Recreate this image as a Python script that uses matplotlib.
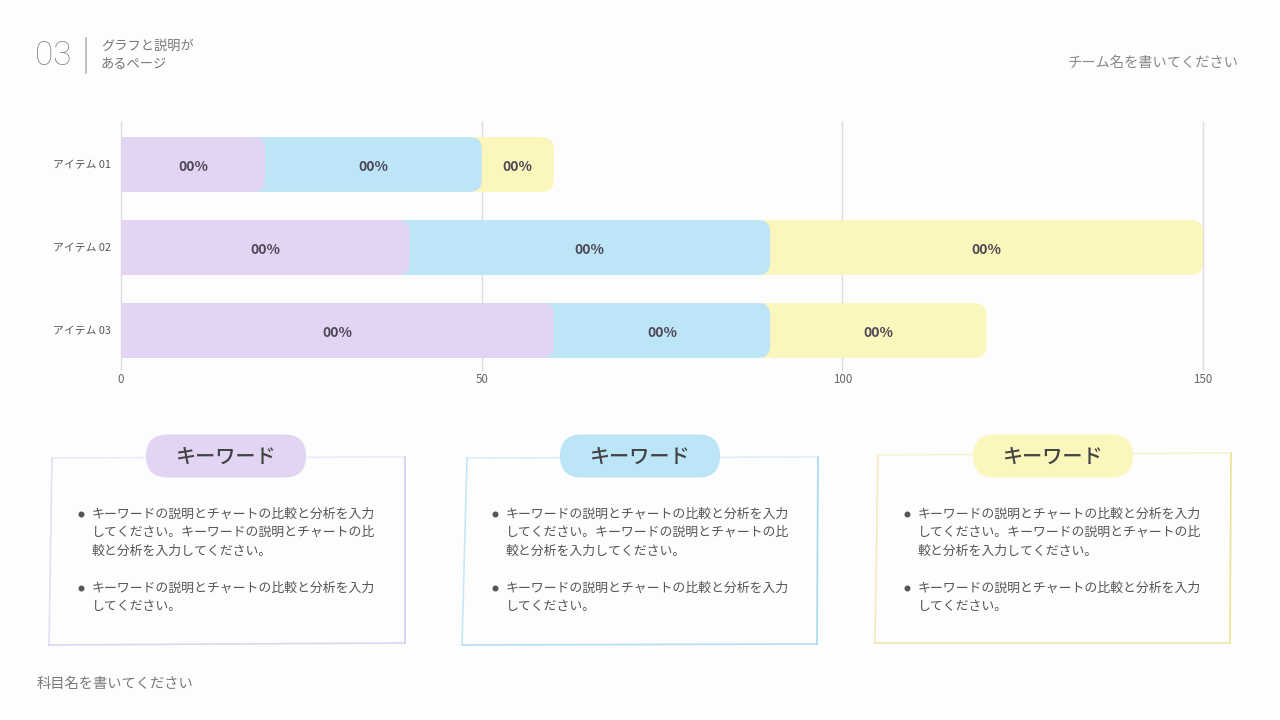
import matplotlib.pyplot as plt
from matplotlib.patches import FancyBboxPatch

plt.rcParams['font.family'] = ['Noto Sans CJK JP', 'DejaVu Sans']

# データ
items = ['アイテム 01', 'アイテム 02', 'アイテム 03']
purple_vals = [20, 40, 60]
blue_vals = [30, 50, 30]
yellow_vals = [10, 60, 30]
seg_labels = ['00%', '00%', '00%']
xticks = [0, 50, 100, 150]

colors = ['#e2d5f3', '#bde5f8', '#fbf6bb']
edge_colors = ['#d3c6ee', '#9fd4f0', '#e9df88']

card_titles = ['キーワード', 'キーワード', 'キーワード']
bullet1 = ['キーワードの説明とチャートの比較と分析を入力',
           'してください。キーワードの説明とチャートの比',
           '較と分析を入力してください。']
bullet2 = ['キーワードの説明とチャートの比較と分析を入力',
           'してください。']

W, H = 1280, 720
fig = plt.figure(figsize=(12.8, 7.2), dpi=100)
fig.patch.set_facecolor('#fdfdfe')

# 背景用の全面 axes (ピクセル座標)
bg = fig.add_axes([0, 0, 1, 1])
bg.set_xlim(0, W)
bg.set_ylim(H, 0)
bg.axis('off')
bg.patch.set_alpha(0)

# ヘッダー
bg.text(35, 56, '03', fontsize=24, color='#8a8a8a', family=['Roboto', 'DejaVu Sans'],
        fontweight='light', va='center', ha='left')
bg.plot([86, 86], [38, 73], color='#b5b5b5', lw=1.2)
bg.text(101, 46, 'グラフと説明が', fontsize=9.5, color='#777777', va='center')
bg.text(101, 64, 'あるページ', fontsize=9.5, color='#777777', va='center')
bg.text(1239, 63, 'チーム名を書いてください', fontsize=10.3, color='#8a8a8a',
        va='center', ha='right')
bg.text(37, 684, '科目名を書いてください', fontsize=10.3, color='#7a7a7a', va='center')

# グラフ
x0, x1 = 121, 1203
y_top, y_bot = 122, 370
ax = fig.add_axes([x0 / W, 1 - y_bot / H, (x1 - x0) / W, (y_bot - y_top) / H])
ax.patch.set_alpha(0)
ax.set_xlim(0, 150)
ax.set_ylim(2 + (y_bot - 330.5) / 83, -42.5 / 83)
for s in ax.spines.values():
    s.set_visible(False)
ax.set_xticks(xticks)
ax.set_xticklabels([str(t) for t in xticks], fontsize=8.3, color='#666666')
ax.set_yticks(range(len(items)))
ax.set_yticklabels(items, fontsize=7.8, color='#555555')
ax.tick_params(axis='x', length=0, pad=2)
ax.tick_params(axis='y', length=0, pad=7)
for t in xticks:
    ax.axvline(t, color='#dcdcdc', lw=1, zorder=0, clip_on=False)

bar_h = 0.66
px_x = (x1 - x0) / 150.0
r_x = 12 / px_x
r_y = 12 / 83.0
ypos = list(range(len(items)))
series = [purple_vals, blue_vals, yellow_vals]
ends = []
run = [0] * len(items)
for vals in series:
    run = [a + b for a, b in zip(run, vals)]
    ends.append(run)

# 奥から順に (黄 → 青 → 紫) 角丸バーを描画
for k in [2, 1, 0]:
    bars = ax.barh(ypos, ends[k], height=bar_h, left=0, color=colors[k])
    for b in bars:
        x, y = b.get_x(), b.get_y()
        w, h = b.get_width(), b.get_height()
        b.remove()
        p = FancyBboxPatch((x - r_x, y), w + r_x, h,
                           boxstyle=f'round,pad=0,rounding_size={r_x}',
                           mutation_aspect=r_y / r_x,
                           fc=colors[k], ec='none', zorder=2 + (2 - k))
        ax.add_patch(p)

for k, vals in enumerate(series):
    for i in ypos:
        start = ends[k][i] - vals[i]
        ax.text(start + vals[i] / 2, i + 0.03, seg_labels[k], ha='center', va='center',
                fontsize=10, fontweight='bold', color='#4d4655', zorder=10)

# カード (手描き風の枠: 左上は薄く、右下は濃く)
cards = [
    dict(poly=[(52, 458), (405, 457), (405, 643), (49, 645)], cx=226, dx=0),
    dict(poly=[(467, 458), (818, 457), (817, 644), (462, 645)], cx=640, dx=414),
    dict(poly=[(878, 455), (1231, 453), (1230, 643), (875, 643)], cx=1053, dx=826),
]
edge_alpha = [0.35, 0.9, 0.75, 0.55]  # 上, 右, 下, 左
for k, c in enumerate(cards):
    pts = c['poly'] + [c['poly'][0]]
    for e in range(4):
        (xa, ya), (xb, yb) = pts[e], pts[e + 1]
        bg.plot([xa, xb], [ya, yb], color=edge_colors[k], lw=1.2,
                alpha=edge_alpha[e], solid_capstyle='round', zorder=1)
    pw, ph = 160, 43
    pill = FancyBboxPatch((c['cx'] - pw / 2, 456 - ph / 2), pw, ph,
                          boxstyle='round,pad=0,rounding_size=21.5',
                          fc=colors[k], ec='none', zorder=3)
    bg.add_patch(pill)
    bg.text(c['cx'], 457, card_titles[k], fontsize=14.5, fontweight='medium',
            color='#444444', ha='center', va='center', zorder=4)
    dx = c['dx']
    bg.plot([81 + dx, 81 + dx], [514, 588], 'o', ms=3.3, color='#555555', zorder=4)
    for j, line in enumerate(bullet1):
        bg.text(92 + dx, 514 + j * 18.5, line, fontsize=9.3, color='#555555',
                va='center', zorder=4)
    for j, line in enumerate(bullet2):
        bg.text(92 + dx, 588 + j * 18.5, line, fontsize=9.3, color='#555555',
                va='center', zorder=4)

fig.savefig('out.png', dpi=100, facecolor=fig.get_facecolor())
